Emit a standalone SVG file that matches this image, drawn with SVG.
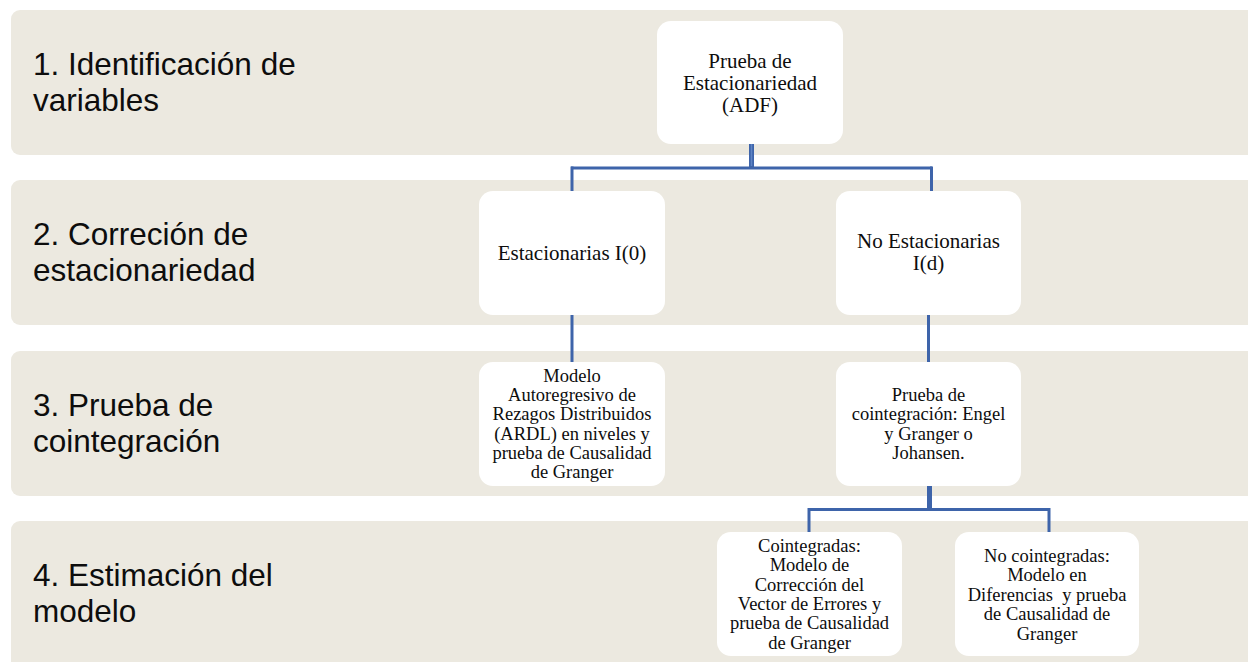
<svg xmlns="http://www.w3.org/2000/svg" width="1248" height="662" viewBox="0 0 1248 662">
  <style>
    .band { fill: #ECE9E0; }
    .lbl { font-family: "Liberation Sans", Arial, sans-serif; font-size: 31.5px; fill: #0d0d0d; }
    .box { fill: #FFFFFF; }
    .t21 { font-family: "Liberation Serif", "Times New Roman", serif; font-size: 21px; fill: #0d0d0d; text-anchor: middle; }
    .t18 { font-family: "Liberation Serif", "Times New Roman", serif; font-size: 18.5px; fill: #0d0d0d; text-anchor: middle; }
    .conn { stroke: #3E64AA; stroke-width: 3; fill: none; }
    .trunk { stroke: #3E64AA; stroke-width: 5; fill: none; }
    .trunkhi { stroke: #5F84C4; stroke-width: 1.5; fill: none; }
  </style>
  <rect width="1248" height="662" fill="#FFFFFF"/>

  <g id="bands">
    <g id="band1">
      <rect class="band" x="11" y="10" width="1250" height="145" rx="9"/>
      <text class="lbl" x="33" y="75">1. Identificación de</text>
      <text class="lbl" x="33" y="110.5">variables</text>
    </g>
    <g id="band2">
      <rect class="band" x="11" y="180" width="1250" height="145" rx="9"/>
      <text class="lbl" x="33" y="245">2. Correción de</text>
      <text class="lbl" x="33" y="280.5">estacionariedad</text>
    </g>
    <g id="band3">
      <rect class="band" x="11" y="351" width="1250" height="145" rx="9"/>
      <text class="lbl" x="33" y="416">3. Prueba de</text>
      <text class="lbl" x="33" y="451.5">cointegración</text>
    </g>
    <g id="band4">
      <rect class="band" x="11" y="521" width="1250" height="160" rx="9"/>
      <text class="lbl" x="33" y="586">4. Estimación del</text>
      <text class="lbl" x="33" y="621.5">modelo</text>
    </g>
  </g>

  <g id="connectors">
    <line class="conn" x1="571" y1="168" x2="932" y2="168"/>
    <line class="conn" x1="572" y1="166.5" x2="572" y2="192"/>
    <line class="conn" x1="931.5" y1="166.5" x2="931.5" y2="192"/>
    <line class="trunk" x1="751.5" y1="143" x2="751.5" y2="168"/>
    <line class="trunkhi" x1="751.5" y1="144" x2="751.5" y2="166"/>
    <line class="conn" x1="572" y1="314" x2="572" y2="363"/>
    <line class="conn" x1="928.5" y1="314" x2="928.5" y2="363"/>
    <line class="trunk" x1="929.5" y1="484" x2="929.5" y2="510"/>
    <line class="conn" x1="809" y1="509.5" x2="1049.5" y2="509.5"/>
    <line class="conn" x1="809" y1="508" x2="809" y2="533"/>
    <line class="conn" x1="1049" y1="508" x2="1049" y2="533"/>
  </g>

  <g id="node-adf">
    <rect class="box" x="657" y="21" width="186" height="123" rx="14"/>
    <text class="t21" x="750" y="68">Prueba de</text>
    <text class="t21" x="750" y="90">Estacionariedad</text>
    <text class="t21" x="750" y="112">(ADF)</text>
  </g>

  <g id="node-estacionarias">
    <rect class="box" x="479" y="191" width="186" height="124" rx="14"/>
    <text class="t21" x="572" y="260">Estacionarias I(0)</text>
  </g>

  <g id="node-noestacionarias">
    <rect class="box" x="836" y="191" width="185" height="124" rx="14"/>
    <text class="t21" x="928.5" y="248">No Estacionarias</text>
    <text class="t21" x="928.5" y="270">I(d)</text>
  </g>

  <g id="node-ardl">
    <rect class="box" x="479" y="362" width="186" height="124" rx="14"/>
    <text class="t18" x="572" y="382">Modelo</text>
    <text class="t18" x="572" y="401">Autoregresivo de</text>
    <text class="t18" x="572" y="420">Rezagos Distribuidos</text>
    <text class="t18" x="572" y="439.5">(ARDL) en niveles y</text>
    <text class="t18" x="572" y="458.5">prueba de Causalidad</text>
    <text class="t18" x="572" y="478">de Granger</text>
  </g>

  <g id="node-cointegracion">
    <rect class="box" x="836" y="362" width="185" height="124" rx="14"/>
    <text class="t18" x="928.5" y="401">Prueba de</text>
    <text class="t18" x="928.5" y="420">cointegración: Engel</text>
    <text class="t18" x="928.5" y="439.5">y Granger o</text>
    <text class="t18" x="928.5" y="458.5">Johansen.</text>
  </g>

  <g id="node-cointegradas">
    <rect class="box" x="717" y="532" width="185" height="124" rx="14"/>
    <text class="t18" x="809.5" y="552">Cointegradas:</text>
    <text class="t18" x="809.5" y="571">Modelo de</text>
    <text class="t18" x="809.5" y="590.5">Corrección del</text>
    <text class="t18" x="809.5" y="610">Vector de Errores y</text>
    <text class="t18" x="809.5" y="629">prueba de Causalidad</text>
    <text class="t18" x="809.5" y="648.5">de Granger</text>
  </g>

  <g id="node-nocointegradas">
    <rect class="box" x="955" y="532" width="184" height="124" rx="14"/>
    <text class="t18" x="1047" y="562">No cointegradas:</text>
    <text class="t18" x="1047" y="581">Modelo en</text>
    <text class="t18" x="1047" y="600.5" style="white-space:pre">Diferencias  y prueba</text>
    <text class="t18" x="1047" y="620">de Causalidad de</text>
    <text class="t18" x="1047" y="639.5">Granger</text>
  </g>
</svg>
